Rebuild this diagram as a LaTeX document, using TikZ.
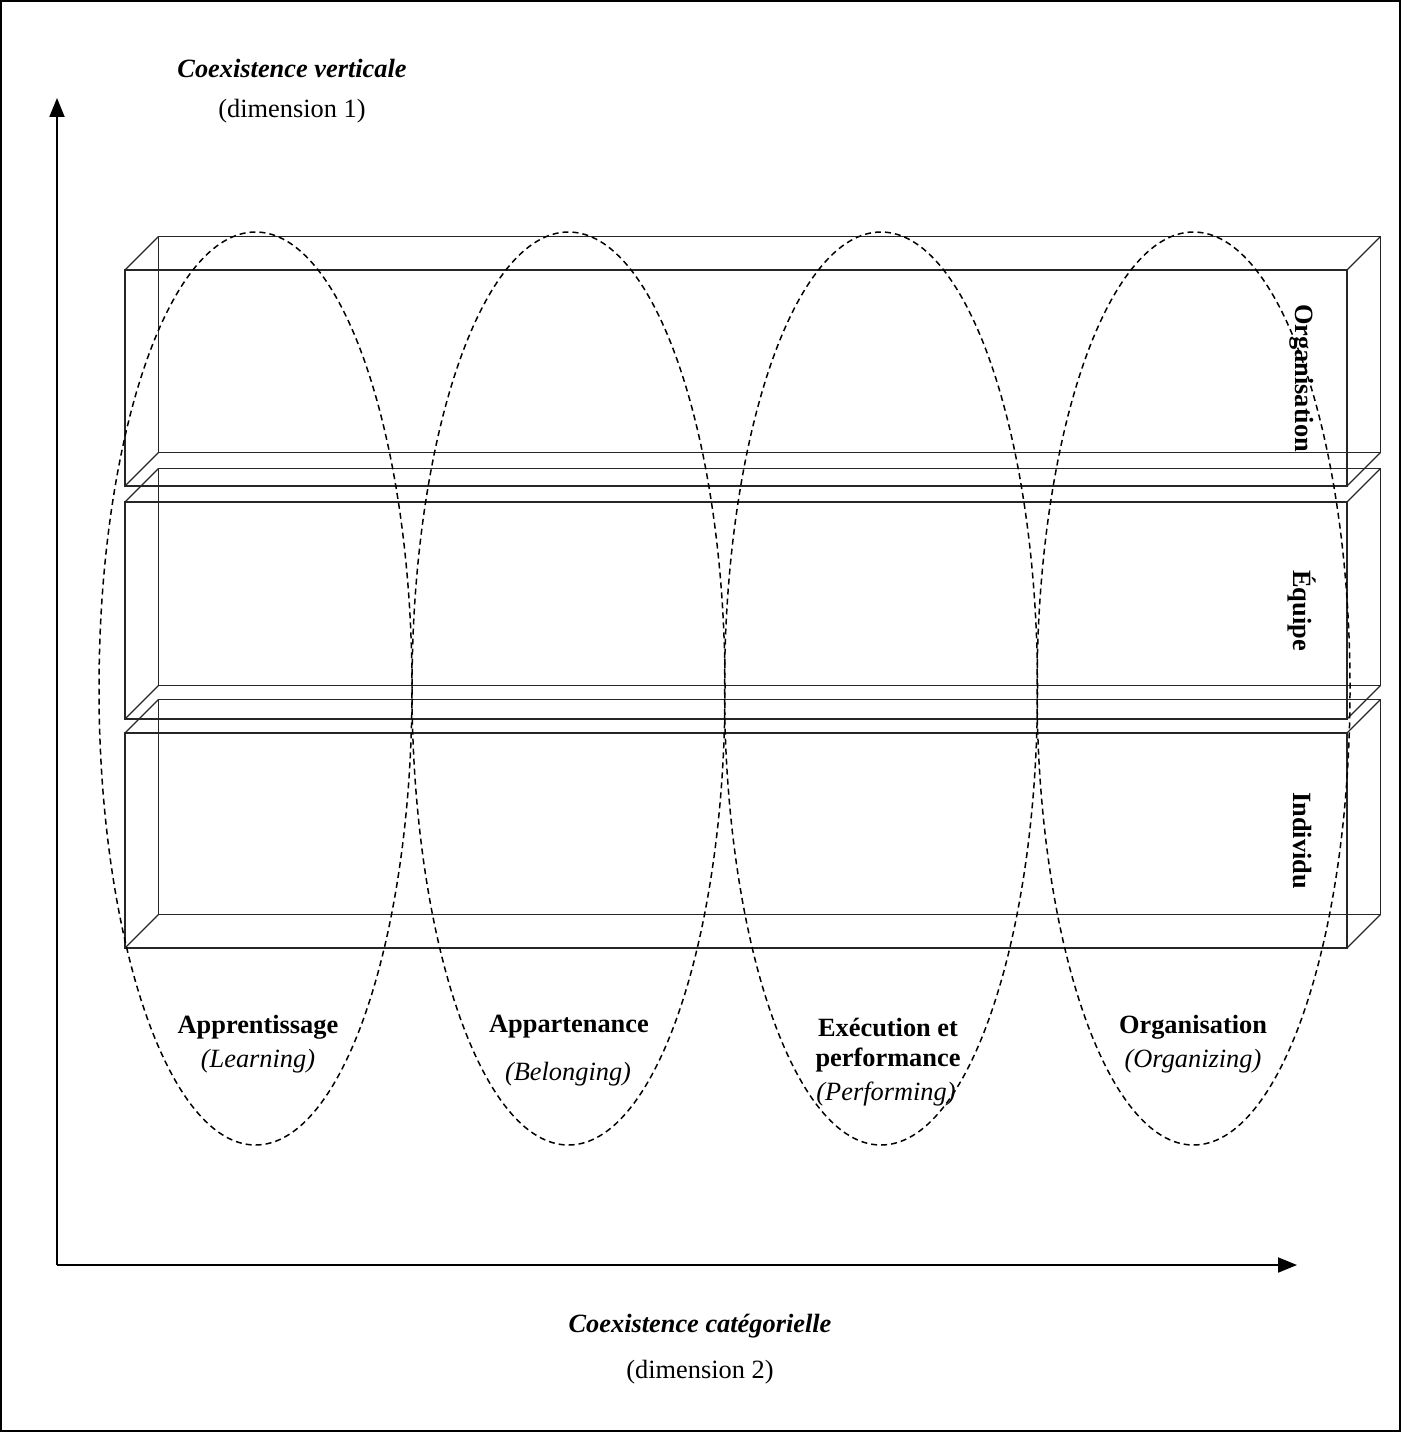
\documentclass[tikz,border=0pt]{standalone}
\usepackage{fontspec}
\setmainfont{Liberation Serif}
\usepackage{tikz}
\usetikzlibrary{arrows.meta,positioning}
\tikzset{>={Triangle[length=0.38cm,width=0.3cm]}}
\tikzset{slab/.style={draw=black!85,line width=0.75pt},
  phase/.style={line width=0.85pt,dash pattern=on 3.4pt off 2.3pt},
  axis/.style={line width=1.1pt,->}}

\begin{document}
\begin{tikzpicture}[every node/.style={font=\fontsize{15}{18}\selectfont,inner sep=0pt}]
\useasboundingbox (0,0) rectangle (28.02,-28.64);
\draw[line width=1.4pt] (0.025,-0.025) rectangle (27.995,-28.615);
\coordinate (O) at (1.14,-25.3);
\coordinate (ytip) at (1.14,-1.96);
\coordinate (xtip) at (25.94,-25.3);
\draw[axis] (O) -- (ytip);
\draw[axis] (O) -- (xtip);
\node (vert) at (5.84,-1.36) {\textbf{\textit{Coexistence verticale}}};
\node (dim1) at (5.84,-2.22) {(dimension 1)};
\node (cat) at (14,-26.52) {\textbf{\textit{Coexistence catégorielle}}};
\node (dim2) at (14,-27.44) {(dimension 2)};
\foreach \t/\b/\n/\lab in {-5.40/-9.72/org/Organisation,-10.04/-14.38/equ/Équipe,-14.66/-18.96/ind/Individu}{
  \draw[slab] (2.5,\t) rectangle (26.94,\b);
  \draw[slab] (3.17,{\t+0.67}) rectangle (27.61,{\b+0.67});
  \draw[slab] (2.5,\t) -- (3.17,{\t+0.67}) (26.94,\t) -- (27.61,{\t+0.67})
    (2.5,\b) -- (3.17,{\b+0.67}) (26.94,\b) -- (27.61,{\b+0.67});
  \node[rotate=-90] (\n) at (26.04,{(\t+\b)/2}) {\textbf{\lab}};
}
\foreach \x in {5.11,11.37,17.62,23.87}
  \draw[phase] (\x,-13.77) ellipse [x radius=3.13, y radius=9.13];
\node (appr) at (5.16,-20.54) {\textbf{Apprentissage}};
\node (learn) at (5.16,-21.22) {\textit{(Learning)}};
\node (appa) at (11.38,-20.54) {\textbf{Appartenance}};
\node (belong) at (11.36,-21.48) {\textit{(Belonging)}};
\node (exec) at (17.76,-20.54) {\textbf{Exécution et}};
\node (perfo) at (17.76,-21.2) {\textbf{performance}};
\node (perf) at (17.72,-21.88) {\textit{(Performing)}};
\node (orga) at (23.86,-20.54) {\textbf{Organisation}};
\node (organiz) at (23.86,-21.22) {\textit{(Organizing)}};
\end{tikzpicture}
\end{document}
